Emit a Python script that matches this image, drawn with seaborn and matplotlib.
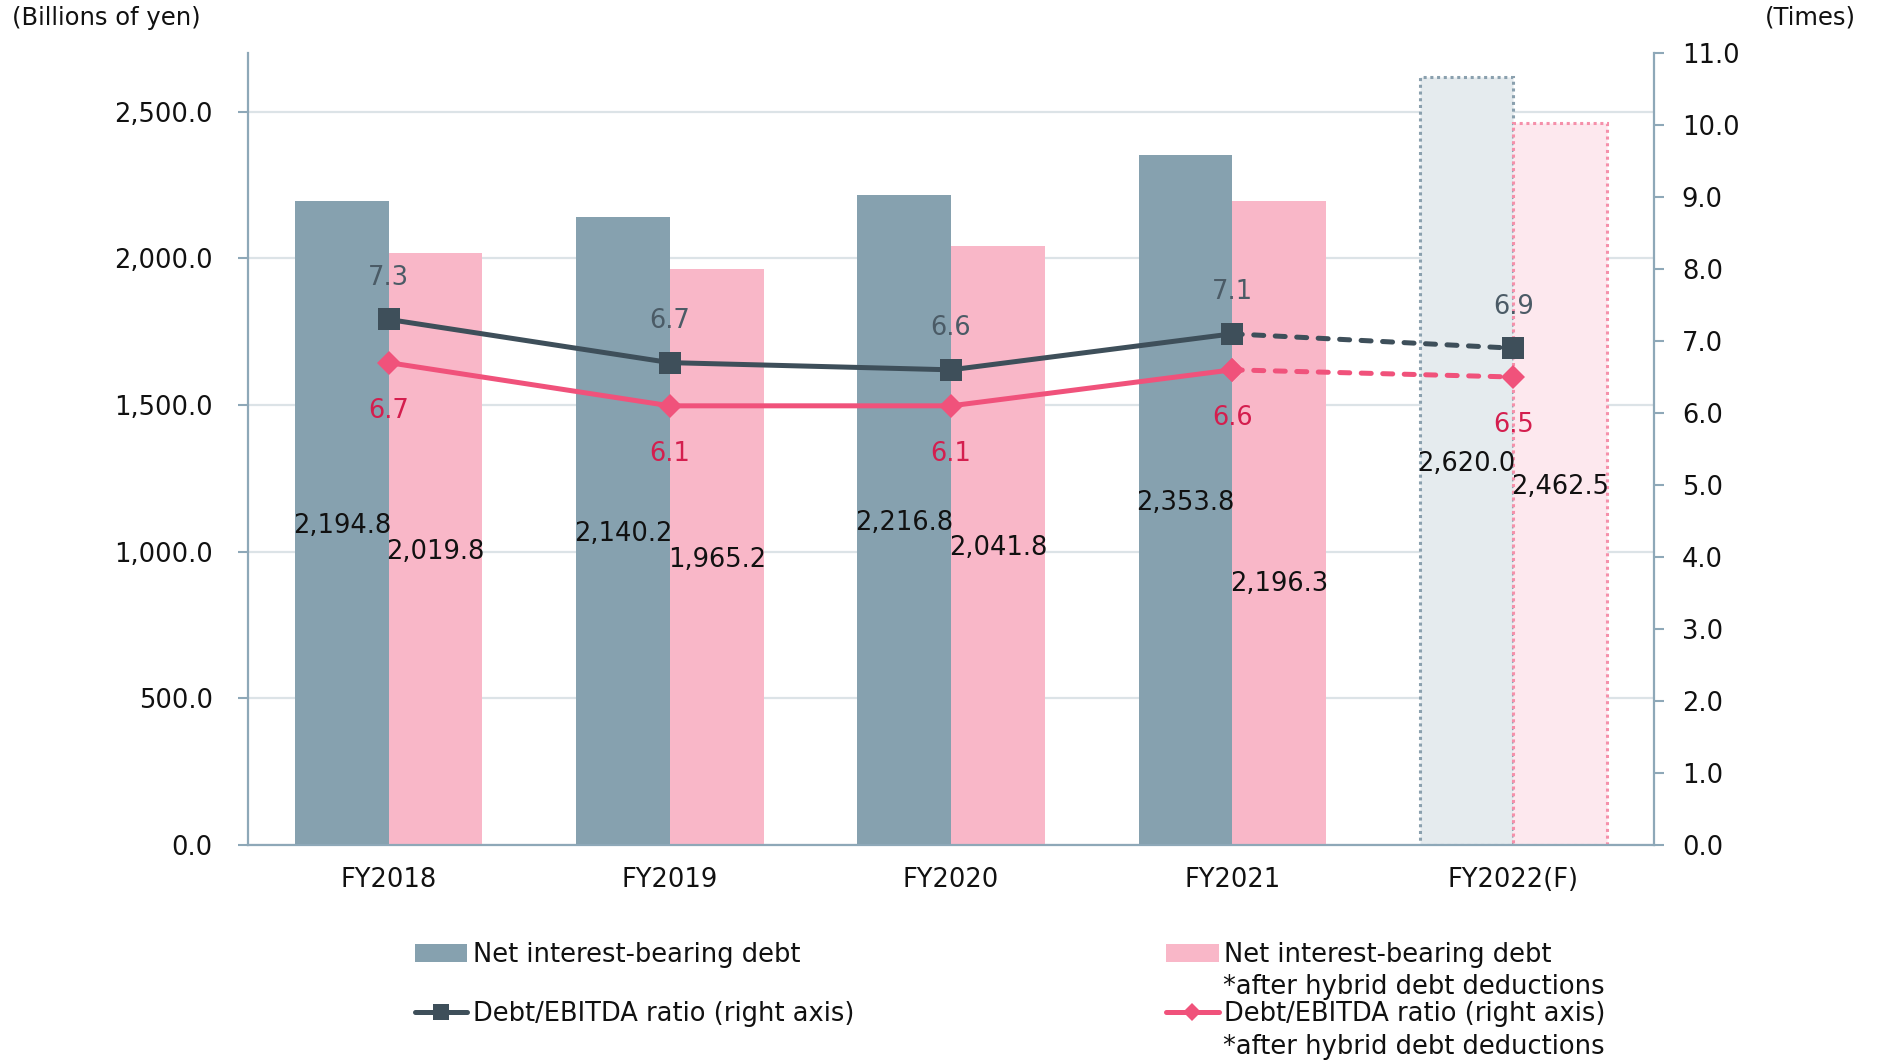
import numpy as np
import pandas as pd
import matplotlib
matplotlib.use("Agg")
import matplotlib.pyplot as plt
import seaborn as sns
from matplotlib.lines import Line2D
from matplotlib.patches import Patch

# ---- data -------------------------------------------------------------
years = ["FY2018", "FY2019", "FY2020", "FY2021", "FY2022(F)"]
net_debt = [2194.8, 2140.2, 2216.8, 2353.8, 2620.0]
net_debt_after_hybrid = [2019.8, 1965.2, 2041.8, 2196.3, 2462.5]
ratio = [7.3, 6.7, 6.6, 7.1, 6.9]
ratio_after_hybrid = [6.7, 6.1, 6.1, 6.6, 6.5]
forecast_year = "FY2022(F)"

# ---- style ------------------------------------------------------------
GRAY_BAR = "#86A1AF"
PINK_BAR = "#F9B7C8"
GRAY_FC_FILL = "#E5EBEE"
GRAY_FC_EDGE = "#8AA0AE"
PINK_FC_FILL = "#FDE8EE"
PINK_FC_EDGE = "#F590AA"
DARK_LINE = "#3E4F5A"
PINK_LINE = "#F0527B"
DARK_LABEL = "#4B5B66"
PINK_LABEL = "#D41E4E"
SPINE = "#8EA8B8"
GRID = "#DCE3E7"
TEXT = "#111111"
FS = 18.5

sns.set_theme(style="white")
plt.rcParams["font.family"] = ["DejaVu Sans"]
plt.rcParams["text.color"] = TEXT

fig = plt.figure(figsize=(18.79, 10.61), dpi=100)
ax = fig.add_axes([0.132, 0.2036, 0.7483, 0.7464])

df = pd.DataFrame({
    "year": years * 2,
    "value": net_debt + net_debt_after_hybrid,
    "series": ["net"] * len(years) + ["after"] * len(years),
})

sns.barplot(data=df, x="year", y="value", hue="series", order=years,
            hue_order=["net", "after"], palette=[GRAY_BAR, PINK_BAR],
            width=2 / 3, saturation=1, legend=False, ax=ax, linewidth=0)

fc = years.index(forecast_year)
for cont, fill, edge in zip(ax.containers,
                            [GRAY_FC_FILL, PINK_FC_FILL],
                            [GRAY_FC_EDGE, PINK_FC_EDGE]):
    for i, bar in enumerate(cont.patches):
        bar.set_linewidth(0)
        if i == fc:
            bar.set_facecolor(fill)
            bar.set_edgecolor(edge)
            bar.set_linewidth(2.2)
            bar.set_linestyle((0, (1, 1.2)))

# bar value labels, centred in each bar
label_nudge = {("after", "FY2021"): -42}
for cont, name, vals in zip(ax.containers, ["net", "after"],
                            [net_debt, net_debt_after_hybrid]):
    for bar, yr, v in zip(cont.patches, years, vals):
        cx = bar.get_x() + bar.get_width() / 2
        ax.annotate(f"{v:,.1f}", (cx, v / 2),
                    xytext=(0, label_nudge.get((name, yr), 0) - 2),
                    textcoords="offset points", ha="center", va="center",
                    fontsize=FS, color=TEXT, zorder=5)

ax.set_xlim(-0.5, len(years) - 0.5)
ax.set_ylim(0, 2700)
ax.set_yticks(np.arange(0, 2501, 500))
ax.set_yticklabels([f"{v:,.1f}" for v in np.arange(0, 2501, 500)])
ax.set_xticks(range(len(years)))
ax.set_xticklabels(years)
ax.set_xticks(np.arange(-0.5, len(years), 1), minor=True)
ax.set_xlabel("")
ax.set_ylabel("")
ax.set_axisbelow(True)
ax.yaxis.grid(True, color=GRID, linewidth=1.6)
ax.tick_params(axis="x", which="major", length=0, pad=16, labelsize=FS,
               labelcolor=TEXT)
ax.tick_params(axis="x", which="minor", length=7, width=1.5, color=SPINE,
               direction="out")
ax.tick_params(axis="y", length=7, width=1.5, color=SPINE, pad=18.5,
               labelsize=FS, labelcolor=TEXT, left=True)
for s in ["top", "right"]:
    ax.spines[s].set_visible(False)
for s in ["left", "bottom"]:
    ax.spines[s].set_color(SPINE)
    ax.spines[s].set_linewidth(1.6)

# ---- ratio lines on the right axis -----------------------------------
ax2 = ax.twinx()
xs = np.arange(len(years))
for vals, color, mk, ms in [(ratio, DARK_LINE, "s", 15.5),
                            (ratio_after_hybrid, PINK_LINE, "D", 12.5)]:
    # actual years: solid
    sns.lineplot(x=xs[:fc], y=vals[:fc], ax=ax2, color=color, linewidth=3.6,
                 marker=mk, markersize=ms, markeredgewidth=0, zorder=4)
    # last actual year to forecast: dashed
    sns.lineplot(x=xs[fc - 1:fc + 1], y=vals[fc - 1:fc + 1], ax=ax2,
                 color=color, linewidth=3.6, linestyle=(0, (2.0, 2.3)),
                 dash_capstyle="round", marker=mk, markersize=ms,
                 markeredgewidth=0, zorder=4)

for i, (a, b) in enumerate(zip(ratio, ratio_after_hybrid)):
    ax2.annotate(f"{a:.1f}", (i, a), xytext=(0, 30), textcoords="offset points",
                 ha="center", va="center", fontsize=FS, color=DARK_LABEL)
    ax2.annotate(f"{b:.1f}", (i, b), xytext=(0, -34.5), textcoords="offset points",
                 ha="center", va="center", fontsize=FS, color=PINK_LABEL)

ax2.set_ylim(0, 11)
ax2.set_yticks(np.arange(0, 12, 1))
ax2.set_yticklabels([f"{v:.1f}" for v in np.arange(0, 12, 1)])
ax2.set_ylabel("")
ax2.tick_params(axis="y", length=7, width=1.5, color=SPINE, pad=13,
                labelsize=FS, labelcolor=TEXT, right=True)
ax2.grid(False)
for s in ["top", "left", "bottom"]:
    ax2.spines[s].set_visible(False)
ax2.spines["right"].set_color(SPINE)
ax2.spines["right"].set_linewidth(1.6)

# ---- axis unit captions ------------------------------------------------
fig.text(12 / 1879, 1 - 18 / 1061, "(Billions of yen)", ha="left",
         va="center", fontsize=17.5)
fig.text(1856 / 1879, 1 - 18 / 1061, "(Times)", ha="right", va="center",
         fontsize=17.5)

# ---- legend ------------------------------------------------------------
entries = [
    (Patch(facecolor=GRAY_BAR, edgecolor="none"), "Net interest-bearing debt",
     0.2207, 0.0999),
    (Patch(facecolor=PINK_BAR, edgecolor="none"), "Net interest-bearing debt",
     0.6205, 0.0999),
    (Line2D([], [], color=DARK_LINE, linewidth=3.6, marker="s", markersize=11,
            markeredgewidth=0), "Debt/EBITDA ratio (right axis)", 0.2207, 0.0445),
    (Line2D([], [], color=PINK_LINE, linewidth=3.6, marker="D", markersize=9,
            markeredgewidth=0), "Debt/EBITDA ratio (right axis)", 0.6205, 0.0445),
]
for handle, text, x, y in entries:
    fig.legend(handles=[handle], labels=[text], loc="center left",
               bbox_to_anchor=(x, y), frameon=False, borderpad=0,
               borderaxespad=0, handlelength=2.05, handletextpad=0.2,
               fontsize=FS, labelcolor=TEXT)
for y in (0.0694, 0.0129):
    fig.text(0.6511, y, "*after hybrid debt deductions", ha="left",
             va="center", fontsize=FS)

fig.savefig("out.png", dpi=100)
